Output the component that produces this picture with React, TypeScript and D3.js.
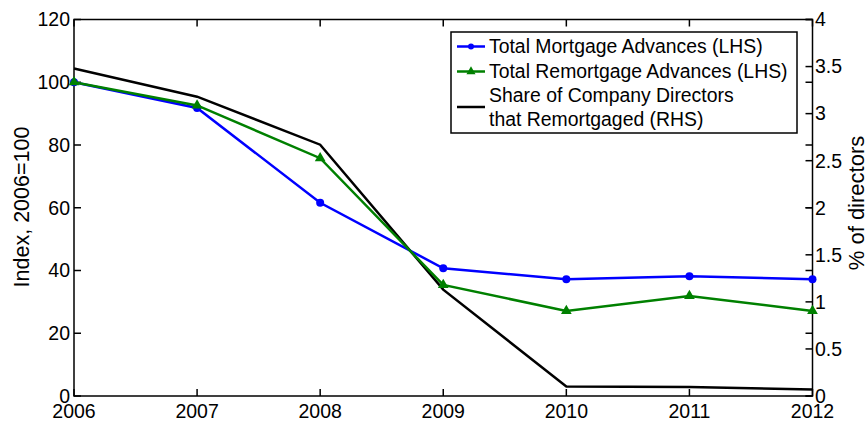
import React, { useEffect, useRef } from "react";
import * as d3 from "d3";

const years = [2006, 2007, 2008, 2009, 2010, 2011, 2012];
const mortgage = [100, 91.8, 61.6, 40.7, 37.2, 38.2, 37.2];
const remortgage = [100, 92.6, 75.8, 35.4, 27.1, 31.9, 27.1];
const directorsShare = [3.48, 3.18, 2.67, 1.13, 0.1, 0.095, 0.07];
const leftTicks = [0, 20, 40, 60, 80, 100, 120];
const rightTicks = [0, 0.5, 1, 1.5, 2, 2.5, 3, 3.5, 4];

const W = 868;
const H = 421;

const App: React.FC = () => {
  const ref = useRef<SVGSVGElement | null>(null);

  useEffect(() => {
    if (!ref.current) return;
    const svg = d3.select(ref.current);
    svg.selectAll("*").remove();

    const left = 74;
    const right = 812.5;
    const top = 19.5;
    const bottom = 396;
    const font = "Liberation Sans, Arial, Helvetica, sans-serif";
    const tickLen = 7;

    const x = d3.scaleLinear().domain([2006, 2012]).range([left, right]);
    const yL = d3.scaleLinear().domain([0, 120]).range([bottom, top]);
    const yR = d3.scaleLinear().domain([0, 4]).range([bottom, top]);

    const axes = svg.append("g").attr("stroke", "#000").attr("stroke-width", 1.5);

    // ticks
    leftTicks.forEach((t) => {
      axes.append("line").attr("x1", left).attr("x2", left + tickLen).attr("y1", yL(t)).attr("y2", yL(t));
      axes.append("line").attr("x1", right).attr("x2", right - tickLen).attr("y1", yL(t)).attr("y2", yL(t));
    });
    rightTicks.forEach((t) => {
      axes.append("line").attr("x1", right).attr("x2", right - tickLen).attr("y1", yR(t)).attr("y2", yR(t));
    });
    years.forEach((yr) => {
      axes.append("line").attr("x1", x(yr)).attr("x2", x(yr)).attr("y1", bottom).attr("y2", bottom - tickLen);
      axes.append("line").attr("x1", x(yr)).attr("x2", x(yr)).attr("y1", top).attr("y2", top + tickLen);
    });

    // frame
    axes
      .append("rect")
      .attr("x", left)
      .attr("y", top)
      .attr("width", right - left)
      .attr("height", bottom - top)
      .attr("fill", "none");

    // tick labels
    const labels = svg.append("g").attr("font-family", font).attr("font-size", 19.5).attr("fill", "#000");
    leftTicks.forEach((t) => {
      labels
        .append("text")
        .attr("x", left - 4)
        .attr("y", yL(t))
        .attr("dy", "0.35em")
        .attr("text-anchor", "end")
        .text(t);
    });
    rightTicks.forEach((t) => {
      labels
        .append("text")
        .attr("x", right + 2.5)
        .attr("y", yR(t))
        .attr("dy", "0.35em")
        .attr("text-anchor", "start")
        .text(t);
    });
    years.forEach((yr) => {
      labels
        .append("text")
        .attr("x", x(yr))
        .attr("y", 417.5)
        .attr("text-anchor", "middle")
        .text(yr);
    });

    // axis titles
    labels
      .append("text")
      .attr("transform", `translate(28.5,207) rotate(-90)`)
      .attr("text-anchor", "middle")
      .attr("font-size", 21.5)
      .text("Index, 2006=100");
    labels
      .append("text")
      .attr("transform", `translate(864,203) rotate(-90)`)
      .attr("text-anchor", "middle")
      .attr("font-size", 22)
      .text("% of directors");

    // lines
    const lineL = d3
      .line<number>()
      .x((_, i) => x(years[i]))
      .y((d) => yL(d));
    const lineR = d3
      .line<number>()
      .x((_, i) => x(years[i]))
      .y((d) => yR(d));

    svg
      .append("path")
      .attr("d", lineR(directorsShare)!)
      .attr("fill", "none")
      .attr("stroke", "#000")
      .attr("stroke-width", 2.5);

    svg
      .append("path")
      .attr("d", lineL(mortgage)!)
      .attr("fill", "none")
      .attr("stroke", "#0000ff")
      .attr("stroke-width", 2.5);
    svg
      .append("g")
      .selectAll("circle")
      .data(mortgage)
      .join("circle")
      .attr("cx", (_, i) => x(years[i]))
      .attr("cy", (d) => yL(d))
      .attr("r", 4)
      .attr("fill", "#0000ff");

    svg
      .append("path")
      .attr("d", lineL(remortgage)!)
      .attr("fill", "none")
      .attr("stroke", "#008000")
      .attr("stroke-width", 2.5);
    const tri = d3.symbol().type(d3.symbolTriangle).size(50);
    svg
      .append("g")
      .selectAll("path")
      .data(remortgage)
      .join("path")
      .attr("transform", (d, i) => `translate(${x(years[i])},${yL(d)})`)
      .attr("d", tri()!)
      .attr("fill", "#008000");

    // legend
    const lg = svg.append("g").attr("font-family", font).attr("font-size", 19.4);
    lg.append("rect")
      .attr("x", 451)
      .attr("y", 32)
      .attr("width", 346)
      .attr("height", 101)
      .attr("fill", "#fff")
      .attr("stroke", "#000")
      .attr("stroke-width", 1.5);

    const entries = [
      { color: "#0000ff", marker: "circle", lines: ["Total Mortgage Advances (LHS)"], y: 46.5 },
      { color: "#008000", marker: "triangle", lines: ["Total Remortgage Advances (LHS)"], y: 71.5 },
      { color: "#000", marker: "none", lines: ["Share of Company Directors", "that Remortgaged (RHS)"], y: 107 },
    ];
    entries.forEach((e) => {
      lg.append("line")
        .attr("x1", 457)
        .attr("x2", 485)
        .attr("y1", e.y)
        .attr("y2", e.y)
        .attr("stroke", e.color)
        .attr("stroke-width", 2.5);
      if (e.marker === "circle") {
        lg.append("circle").attr("cx", 471).attr("cy", e.y).attr("r", 3).attr("fill", e.color);
      } else if (e.marker === "triangle") {
        lg.append("path")
          .attr("transform", `translate(471,${e.y})`)
          .attr("d", d3.symbol().type(d3.symbolTriangle).size(36)()!)
          .attr("fill", e.color);
      }
      const startY = e.y - ((e.lines.length - 1) * 23.5) / 2;
      e.lines.forEach((t, k) => {
        lg.append("text")
          .attr("x", 489)
          .attr("y", startY + k * 23.5)
          .attr("dy", "0.35em")
          .attr("fill", "#000")
          .text(t);
      });
    });
  }, []);

  return (
    <div style={{ position: "absolute", left: 0, top: 0 }}>
      <svg ref={ref} width={W} height={H} style={{ display: "block", background: "#fff" }}></svg>
    </div>
  );
};

export default App;
